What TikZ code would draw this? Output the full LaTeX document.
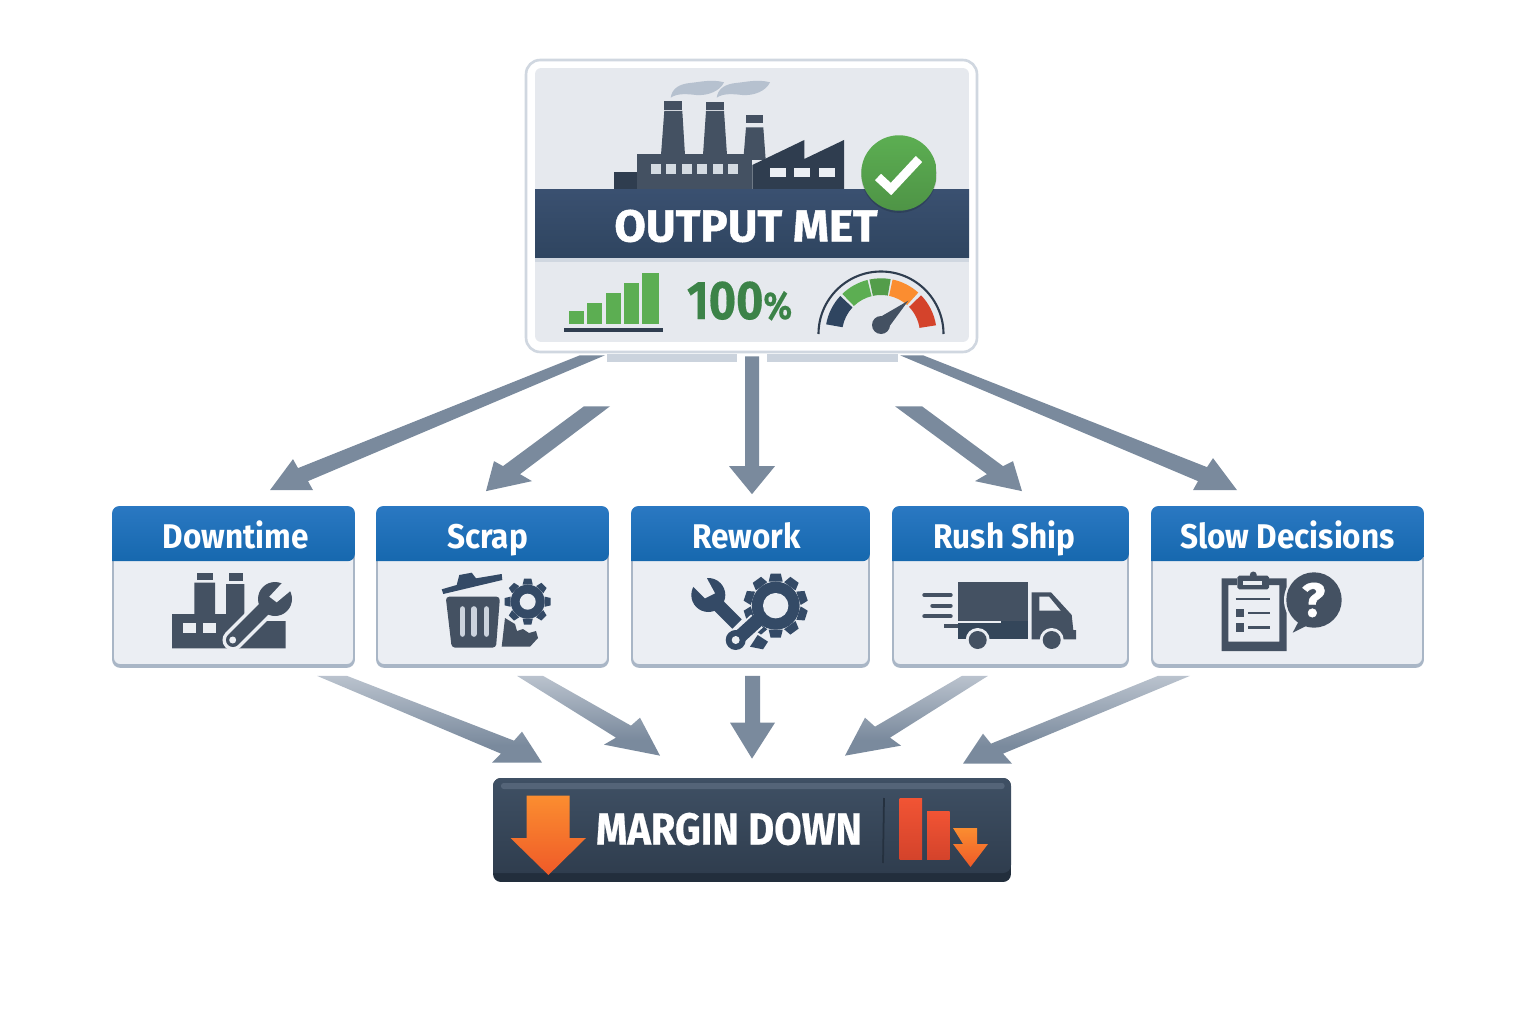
\documentclass[tikz,border=0pt]{standalone}
\usepackage{fontspec}
\setmainfont{Fira Sans}
\newfontfamily\panelfont[FakeStretch=0.92]{Fira Sans}
\newfontfamily\marginfont[FakeStretch=0.89,FakeBold=0.5]{Fira Sans}
\newfontfamily\outputfont[FakeStretch=1.02,FakeBold=1.0]{Fira Sans}
\newfontfamily\percentfont[FakeStretch=0.86,FakeBold=0.3]{Fira Sans}
\usetikzlibrary{calc,positioning}

\definecolor{flowgray}{HTML}{7A8A9D}
\definecolor{flowlight}{HTML}{E2E6EC}
\definecolor{panelfill}{HTML}{EBEEF3}
\definecolor{outputfill}{HTML}{E6E9EE}
\definecolor{panelline}{HTML}{A9B6C6}
\definecolor{headtop}{HTML}{2A78C2}
\definecolor{headlow}{HTML}{1668AE}
\definecolor{icondark}{HTML}{445162}
\definecolor{iconblue}{HTML}{344A66}
\definecolor{iconlow}{HTML}{34465A}
\definecolor{slate}{HTML}{2F3D4F}
\definecolor{barblue}{HTML}{3A5070}
\definecolor{barlow}{HTML}{2F4560}
\definecolor{marginup}{HTML}{3F5064}
\definecolor{marginlow}{HTML}{2F3D4E}
\definecolor{marginfoot}{HTML}{222E3C}
\definecolor{okgreen}{HTML}{5CAE52}
\definecolor{pctgreen}{HTML}{3C8348}
\definecolor{orangetop}{HTML}{FB8D30}
\definecolor{orangelow}{HTML}{EF5A28}
\definecolor{redtop}{HTML}{F15434}
\definecolor{redlow}{HTML}{D4432B}

\pgfdeclareverticalshading{shortfade}{100bp}{color(0bp)=(flowgray); color(80bp)=(flowgray); color(100bp)=(flowlight)}
\pgfdeclareverticalshading{longfade}{100bp}{color(0bp)=(flowgray); color(35bp)=(flowgray); color(100bp)=(flowlight)}

\tikzset{
    flowplain/.style={fill=flowgray},
    flowshort/.style={shading=shortfade},
    flowfade/.style={shading=longfade},
    panelbody/.style={rectangle, rounded corners=4pt, draw=panelline, line width=1pt, fill=panelfill,
        inner sep=0pt, minimum height=3.16cm,
        preaction={fill=panelline, draw=panelline, transform canvas={yshift=-1.1pt}}},
    panelhead/.style={top color=headtop, bottom color=headlow},
    paneltitle/.style={text=white, font=\panelfont\bfseries\fontsize{19.5}{20}\selectfont, inner sep=0pt, anchor=base},
    iconpart/.style={fill=icondark},
    iconcut/.style={fill=panelfill},
    pics/gear/.style n args={4}{code={
        \foreach \a in {0,#4,...,359} {
            \fill[iconblue, rotate=\a] (-#1*0.22,-#2) -- (-#1*0.16,-#1) -- (#1*0.16,-#1) -- (#1*0.22,-#2) -- cycle;
        }
        \fill[iconblue] (0,0) circle (#2);
        \fill[panelfill] (0,0) circle (#3);
    }}
}

\begin{document}
\begin{tikzpicture}[x=0.02cm,y=-0.02cm]
    \useasboundingbox (0,0) rectangle (1536,1024);

    % main boxes
    \fill[fill=panelline!60] (607,354) rectangle (737,362);
    \fill[fill=panelline!60] (767,354) rectangle (898,362);
    \node[rectangle, rounded corners=8pt, draw=panelline!55, line width=1.5pt, fill=white, inner sep=0pt,
        minimum width=9.02cm, minimum height=5.84cm] (output) at (751.5,206) {};
    \node[rectangle, rounded corners=3.5pt, fill=outputfill, inner sep=0pt,
        minimum width=8.68cm, minimum height=5.48cm] (outputpanel) at (752,205) {};

    \node[panelbody, minimum width=4.82cm] (downtime) at (233.5,586) {};
    \node[panelbody, minimum width=4.62cm] (scrap) at (492.5,586) {};
    \node[panelbody, minimum width=4.74cm] (rework) at (750.5,586) {};
    \node[panelbody, minimum width=4.70cm] (rushship) at (1010.5,586) {};
    \node[panelbody, minimum width=5.42cm] (slow) at (1287.5,586) {};

    \node[rectangle, rounded corners=4.5pt, fill=marginfoot, inner sep=0pt,
        minimum width=10.36cm, minimum height=2.08cm] (margin) at (752,830) {};

    % connectors
    \foreach \src/\off/\w/\dst/\tip/\pa/\pb/\pc/\pd/\kind in {
        output.south/{-171.5,2}/25/downtime.north/{36.5,-16}/{38,-9}/{43,0}/{23,-31}/{28,-22}/flowshort,
        output.south/{-167.5,53}/26/scrap.north/{-6.5,-15}/{34,-17}/{46,-10}/{8,-30}/{17,-25}/flowplain,
        output.south/{-6.5,3}/14/rework.north/{1.5,-12}/{7,-28}/{23,-28}/{-23,-28}/{-7,-28}/flowplain,
        output.south/{143.5,53}/27/rushship.north/{11.5,-15}/{-19,-25}/{-9,-30}/{-47,-10}/{-35,-17}/flowplain,
        output.south/{148.5,2}/23/slow.north/{-50.5,-16}/{-30,-23}/{-24,-32}/{-44,0}/{-39,-9}/flowshort,
        downtime.south/{83.5,10}/30/margin.north/{-210,-15}/{-28,-22}/{-20,-31}/{-50,0}/{-41,-9}/flowfade,
        scrap.south/{24.5,10}/26/margin.north/{-92,-22}/{-29,-30}/{-20,-38}/{-56,-11}/{-44,-18}/flowfade,
        rework.south/{-5.5,10}/15/margin.north/{0,-19}/{8,-36}/{23,-36}/{-22,-36}/{-7,-36}/flowplain,
        rushship.south/{-48.5,10}/26/margin.north/{93,-22}/{45,-18}/{56,-10}/{20,-38}/{30,-29}/flowfade,
        slow.south/{-129.5,10}/32/margin.north/{211,-14}/{40,-10}/{49,0}/{20,-30}/{28,-20}/flowfade} {
        \coordinate (tipnow) at ($(\dst)+(\tip)$);
        \path[\kind] ($(\src)+(\off)$) -- ++(\w,0) -- ($(tipnow)+(\pa)$) -- ($(tipnow)+(\pb)$) -- (tipnow)
            -- ($(tipnow)+(\pc)$) -- ($(tipnow)+(\pd)$) -- cycle;
    }

    % panel heads and titles
    \foreach \b/\t/\dx in {downtime/Downtime/2, scrap/Scrap/-5, rework/Rework/-4, rushship/Rush Ship/-6, slow/Slow Decisions/0} {
        \path[panelhead, rounded corners=4pt] ($(\b.north west)+(0,55)$) -- (\b.north west) -- (\b.north east)
            -- ($(\b.north east)+(0,55)$) [sharp corners] -- cycle;
        \node[paneltitle] (\b title) at ($(\b.north)+(\dx,42)$) {\t};
    }

    % smoke and factory on top
    \foreach \s in {0,46} {
        \fill[panelline!85, shift={(\s,0)}] (670.7,97.7) .. controls (672,88) and (680,84) .. (690,83)
            .. controls (700,82) and (712,79) .. (724,82.3) .. controls (720,91) and (708,96) .. (696,95)
            .. controls (688,94) and (677,93) .. (670.7,97.7) -- cycle;
    }
    \fill[icondark] (661,155) -- (664.3,111) -- (682.3,111) -- (685,155) -- cycle;
    \fill[slate!90] (664,101) rectangle (682,110);
    \fill[icondark] (703,155) -- (706,111) -- (724,111) -- (727,155) -- cycle;
    \fill[slate!90] (706,102) rectangle (724,110);
    \fill[icondark] (743.3,160) -- (746,127.3) -- (763.3,127.3) -- (765.7,160) -- cycle;
    \fill[slate!90] (746,115.3) rectangle (763.3,123.3);
    \fill[slate] (613.7,171.7) rectangle (637,190);
    \fill[icondark] (636.7,154.3) rectangle (752.3,190);
    \fill[slate] (752.3,165) -- (804.3,140) -- (804.3,159) -- (844,140) -- (844,190) -- (752.3,190) -- cycle;
    \foreach \x in {650.7,666,681.7,697,712.7,728} {
        \fill[panelline!50] (\x,164.3) rectangle ++(10,10);
    }
    \foreach \x in {770.3,794.3,818.7} {
        \fill[panelfill] (\x,168.3) rectangle ++(16,9);
    }

    % output band
    \fill[panelline!55] (535,257) rectangle (969,262);
    \path[top color=barblue, bottom color=barlow] (535,190) rectangle (969,257);
    \node[text=white, font=\outputfont\bfseries\fontsize{25.5}{26}\selectfont, inner sep=0pt] (outputtitle) at (746,226) {OUTPUT MET};

    \node[circle, minimum size=1.51cm, inner sep=0pt, top color=okgreen, bottom color=okgreen!85!black,
        preaction={fill=black, opacity=0.15, transform canvas={yshift=-1.2pt}}] (okbadge) at (899,173) {};
    \draw[white, line width=5pt] (878,177) -- (891,189) -- (919,159);

    % bars, percent and gauge
    \fill[okgreen] (569,311) rectangle (584,324);
    \fill[okgreen] (587.3,302.7) rectangle (602.3,324);
    \fill[okgreen] (605.7,293.3) rectangle (620.7,324);
    \fill[okgreen] (624,282.7) rectangle (639,324);
    \fill[okgreen] (642.3,273.3) rectangle (659,324);
    \fill[slate] (563.7,328.3) rectangle (662.7,331.7);
    \node[text=pctgreen, font=\percentfont\bfseries\fontsize{31}{32}\selectfont, inner sep=0pt, anchor=base] (percent) at (739.5,319) {100{\fontsize{22}{24}\selectfont\%}};

    \begin{scope}[shift={(881,334)},y=0.02cm]
        \draw[slate, line width=1.2pt] (180:62.5) arc (180:0:62.5);
        \foreach \from/\to/\col in {170/137/barlow, 134/104/okgreen, 102/80/okgreen!90!black, 78/48/orangetop, 44/9/redlow} {
            \fill[\col] (\from:55.7) arc (\from:\to:55.7) -- (\to:39) arc (\to:\from:39) -- cycle;
        }
    \end{scope}
    \fill[icondark] (875,320) -- (908.3,300.7) -- (886,331) -- cycle;
    \fill[icondark] (881,325) circle (9);

    % downtime icon
    \fill[iconpart] (172,648.3) -- (172,614) -- (194.3,614) -- (194.3,582.7) -- (215,582.7) -- (215,614) -- (226,614)
        -- (226,584) -- (244.3,584) -- (244.3,614) -- (250,621) -- (285.7,621) -- (285.7,648.3) -- cycle;
    \fill[iconpart] (196.7,572.7) rectangle (212.7,580);
    \fill[iconpart] (228.7,573.3) rectangle (242.7,580.7);
    \fill[iconcut] (183.3,622.7) rectangle (195.7,632.7);
    \fill[iconcut] (203.3,622.7) rectangle (216,632.7);
    \draw[panelfill, line width=12pt, line cap=round] (233,640) -- (268,605);
    \fill[panelfill] (275,599) circle (20);
    \draw[icondark, line width=8pt, line cap=round] (233,640) -- (268,605);
    \fill[icondark] (275,599) circle (17);
    \fill[panelfill] (281.7,583.3) -- (269.3,596.7) -- (276.7,602.3) -- (290.7,590.7) -- (295,578) -- cycle;
    \fill[panelfill] (232.7,640) circle (3.5);

    % scrap icon
    \fill[iconblue] (441.7,589.3) -- (456.7,585) -- (459.3,575) -- (471.7,572.7) -- (476,578.3) -- (501.7,574)
        -- (502.3,580) -- (443.3,594) -- cycle;
    \fill[icondark, rounded corners=2pt] (445.7,596.7) -- (500,596.7) -- (496,647.7) -- (451.7,647.7) -- cycle;
    \foreach \x in {462.5,473.8,486.5} {
        \draw[panelline!60, line width=3.2pt, line cap=round] (\x,609) -- (\x,634);
    }
    \pic (scrapgear) at (527.7,601.7) {gear={23}{17}{8}{45}};
    \fill[icondark] (505,618) -- (515,624) -- (517,631) -- (523,629) -- (529,633) -- (536,631) -- (538,638)
        -- (530,646.7) -- (501.7,646.7) -- cycle;

    % rework icon
    \pic (reworkgear) at (775.7,605.7) {gear={32}{24}{12.7}{36}};
    \draw[iconblue, line width=7.5pt] (708,595) -- (737,624);
    \fill[iconblue] (708.3,595) circle (17);
    \fill[panelfill] (691.7,585) -- (705,598.3) -- (715,593.3) -- (706,576.7) -- (690,570) -- cycle;
    \fill[iconblue] (757.7,635) -- (768,641.7) -- (763,649.3) -- (750,646.7) -- cycle;
    \draw[panelfill, line width=10pt] (757,621) -- (735,641);
    \draw[iconblue, line width=7.8pt, line cap=round] (757,621) -- (735,641);
    \fill[iconblue] (735.7,640) circle (10);
    \fill[panelfill] (735.7,640) circle (4);

    % rush ship icon
    \foreach \x/\y in {924.3/595, 932.3/605.7, 924.3/616.3} {
        \draw[icondark, line width=2.3pt, line cap=round] (\x,\y) -- (950.7,\y);
    }
    \fill[icondark] (957.7,582) rectangle (1028.3,621);
    \fill[iconlow] (957.7,621) rectangle (1028.3,639.3);
    \draw[panelfill, line width=1.3pt] (956,621.7) -- (1001,621.7);
    \draw[icondark, line width=1.8pt] (944,626) -- (958,626);
    \fill[icondark] (1031.7,592.3) -- (1051,592.3) -- (1071.7,615) -- (1073.3,630) -- (1076,630) -- (1076,639.3)
        -- (1031.7,639.3) -- cycle;
    \fill[iconcut] (1039.3,596.7) -- (1049,596.7) -- (1060.7,610.7) -- (1039.3,610.7) -- cycle;
    \foreach \x in {977.7,1051.7} {
        \fill[iconcut] (\x,640) circle (12);
        \fill[icondark] (\x,640) circle (9);
    }

    % slow decisions icon
    \fill[icondark, even odd rule] (1221.7,578.3) rectangle (1286.7,651) (1228.3,585) rectangle (1279.3,641.7);
    \fill[iconcut] (1237.3,575.7) rectangle (1269,589.3);
    \fill[icondark, rounded corners=1pt] (1237.3,575.7) rectangle (1269,589.3);
    \fill[icondark] (1253.3,575) circle (3.5);
    \fill[iconcut] (1243.3,581) rectangle (1262.3,585);
    \draw[icondark, line width=1.4pt] (1235.7,599) -- (1270,599);
    \fill[icondark] (1236,609) rectangle (1244,616.7);
    \fill[icondark] (1236,623.3) rectangle (1244,631.7);
    \draw[icondark, line width=1.4pt] (1248.3,613) -- (1270,613);
    \draw[icondark, line width=1.4pt] (1248.3,627.3) -- (1270,627.3);
    \fill[iconcut] (1314,600) circle (30);
    \fill[icondark] (1314,600) circle (27.7);
    \fill[icondark] (1298.3,622) -- (1292.7,632.7) -- (1310,624) -- cycle;
    \node[text=white, font=\outputfont\bfseries\fontsize{27}{28}\selectfont, inner sep=0pt] (question) at (1313.5,600) {?};

    % margin details
    \path[top color=marginup, bottom color=marginlow, rounded corners=4.5pt] (493,873) -- (493,778) -- (1011,778)
        -- (1011,873) [sharp corners] -- cycle;
    \fill[marginup!80!panelline, rounded corners=1.5pt] (501,783) rectangle (1004.6,789);
    \path[top color=orangetop, bottom color=orangelow] (526.7,795.7) -- (569.5,795.7) -- (569.5,838) -- (586,838)
        -- (548.4,875) -- (510.5,838) -- (526.7,838) -- cycle;
    \node[text=white, font=\marginfont\bfseries\fontsize{25.5}{26}\selectfont, inner sep=0pt] (margintitle) at (729,829) {MARGIN DOWN};
    \draw[marginfoot!80!marginlow, line width=1pt] (884,798) -- (883,863);
    \path[top color=redtop, bottom color=redlow] (899.6,798.3) rectangle (922,859);
    \path[top color=redtop, bottom color=redlow] (927,811) rectangle (949.5,859);
    \path[top color=orangetop, bottom color=orangelow] (953,828) -- (977,828) -- (977,844) -- (988,844) -- (970.5,867)
        -- (953,844) -- (963,844) -- cycle;
\end{tikzpicture}
\end{document}
